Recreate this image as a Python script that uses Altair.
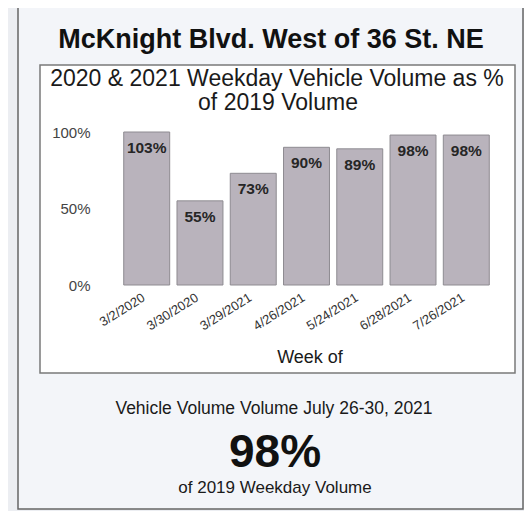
import altair as alt
import pandas as pd

# ---- data ----
weeks = ["3/2/2020", "3/30/2020", "3/29/2021", "4/26/2021", "5/24/2021", "6/28/2021", "7/26/2021"]
pct_of_2019 = [1.03, 0.55, 0.73, 0.90, 0.89, 0.98, 0.98]
y_ticks = [0, 0.5, 1.0]

page_title = "McKnight Blvd. West of 36 St. NE"
chart_title = ["2020 & 2021 Weekday Vehicle Volume as %", "of 2019 Volume"]
x_title = "Week of"
summary_lines = ["Vehicle Volume Volume July 26-30, 2021", "98%", "of 2019 Weekday Volume"]

df = pd.DataFrame({"week": weeks, "pct": pct_of_2019})
one = pd.DataFrame({"a": [0]})

FONT = "Liberation Sans"

outer_box = alt.Chart(one).mark_rect(
    fill="#f3f5f9", stroke="#666666", strokeWidth=1.5
).encode(x=alt.value(-102), x2=alt.value(403), y=alt.value(-130), y2=alt.value(377))

chart_box = alt.Chart(one).mark_rect(
    fill="#ffffff", stroke="#7a7a7a", strokeWidth=1.5
).encode(x=alt.value(-80), x2=alt.value(395), y=alt.value(-67), y2=alt.value(241))

x_enc = alt.X(
    "week:N", sort=weeks, title=None,
    scale=alt.Scale(paddingInner=0.137, paddingOuter=0.07),
    axis=alt.Axis(labelAngle=-32, labelFontSize=13, labelFont=FONT, labelColor="#333333",
                  labelPadding=6, labelOffset=-6, domain=False, ticks=False, grid=False, zindex=5),
)
y_enc = alt.Y(
    "pct:Q", title=None,
    scale=alt.Scale(domain=[0, 1.0], clamp=True, nice=False),
    axis=alt.Axis(values=y_ticks, format=".0%", labelFontSize=15, labelFont=FONT,
                  labelColor="#444444", labelPadding=30, domain=False, ticks=False, grid=False,
                  zindex=5),
)

bars = alt.Chart(df).mark_bar(
    color="#b9b3bc", stroke="#8e8b91", strokeWidth=1
).encode(x=x_enc, y=y_enc)

bar_labels = alt.Chart(df).mark_text(
    baseline="middle", align="center", dy=16, fontSize=15.5, fontWeight="bold", font=FONT,
    color="#262626"
).encode(x=alt.X("week:N", sort=weeks), y=alt.Y("pct:Q"), text=alt.Text("pct:Q", format=".0%"))

def label(txt, x, y, size, weight="normal", color="#111111"):
    return alt.Chart(pd.DataFrame({"t": [txt]})).mark_text(
        align="center", baseline="middle", fontSize=size, fontWeight=weight, font=FONT, color=color
    ).encode(x=alt.value(x), y=alt.value(y), text="t:N")

texts = [
    label(page_title, 151, -92, 27, "bold"),
    label(chart_title[0], 157, -53, 23, "normal", "#1a1a1a"),
    label(chart_title[1], 158, -29, 23, "normal", "#1a1a1a"),
    label(x_title, 190, 226, 18, "normal", "#1a1a1a"),
    label(summary_lines[0], 154, 277, 17.5, "normal", "#1a1a1a"),
    label(summary_lines[1], 155, 321, 46, 900, "#111111"),
    label(summary_lines[2], 155, 356, 17, "normal", "#1a1a1a"),
]

chart = alt.layer(outer_box, chart_box, bars, bar_labels, *texts).properties(
    width=373, height=153,
    autosize=alt.AutoSizeParams(type="none"),
    padding={"left": 112, "top": 124, "right": 31, "bottom": 226},
).configure(background="#eceef2").configure_view(strokeWidth=0)

chart.save("out.html", embed_options={"renderer": "svg", "actions": False})
